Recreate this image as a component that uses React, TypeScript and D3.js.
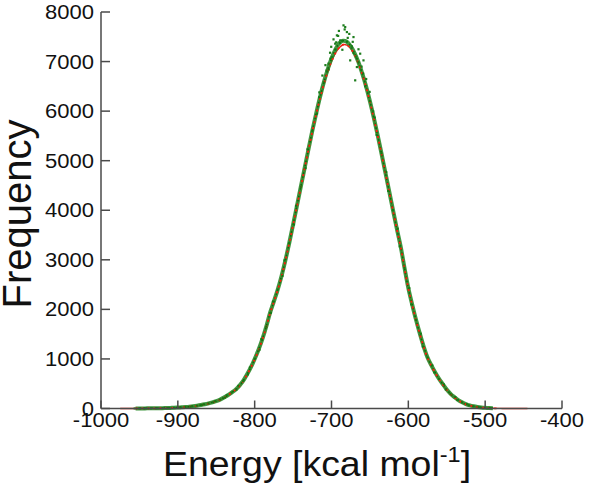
import React from "react";
import * as d3 from "d3";

const energies = [
  -975, -970, -965, -960, -955, -950, -945, -940, -935, -930, -925, -920, -915, -910, -905, -900,
  -895, -890, -885, -880, -875, -870, -865, -860, -855, -850, -845, -840, -835, -830, -825, -820,
  -815, -810, -805, -800, -795, -790, -785, -780, -775, -770, -765, -760, -755, -750, -745, -740,
  -735, -730, -725, -720, -715, -710, -705, -700, -695, -690, -685, -680, -675, -670, -665, -660,
  -655, -650, -645, -640, -635, -630, -625, -620, -615, -610, -605, -600, -595, -590, -585, -580,
  -575, -570, -565, -560, -555, -550, -545, -540, -535, -530, -525, -520, -515, -510, -505, -500,
  -495, -490, -485, -480, -475, -470, -465, -460, -455, -450, -445,
];

const redFreq = [
  0, 0, 1, 1, 1, 1, 2, 2, 3, 4, 5, 6, 8, 11, 14, 18,
  23, 29, 36, 45, 55, 68, 82, 100, 122, 145, 175, 215, 262, 318, 375, 450,
  548, 680, 825, 990, 1170, 1390, 1640, 1920, 2150, 2390, 2660, 2981, 3331, 3697, 4075, 4458,
  4841, 5219, 5583, 5931, 6252, 6542, 6794, 7004, 7168, 7280, 7340, 7333, 7262, 7139, 6966, 6747,
  6486, 6188, 5861, 5511, 5143, 4764, 4380, 3997, 3621, 3260, 2830, 2420, 2090, 1780, 1500, 1240,
  1020, 860, 720, 590, 480, 375, 290, 225, 165, 120, 85, 60, 42, 30, 20, 13,
  8, 5, 3, 2, 1, 1, 1, 0, 0, 0, 0,
];

const greenFreq = [
  null, null, null, null, 1, 2, 2, 3, 4, 5, 6, 7, 9, 12, 15, 19,
  24, 30, 37, 46, 57, 70, 85, 103, 125, 150, 180, 220, 268, 322, 380, 458,
  555, 688, 830, 1000, 1185, 1400, 1650, 1930, 2160, 2400, 2675, 2990, 3340, 3710, 4090, 4470,
  4850, 5230, 5600, 5950, 6280, 6580, 6840, 7060, 7240, 7370, 7420, 7400, 7310, 7170, 6990, 6760,
  6500, 6200, 5870, 5520, 5150, 4770, 4390, 4005, 3630, 3270, 2840, 2430, 2100, 1790, 1510, 1250,
  1030, 870, 728, 598, 488, 382, 296, 230, 170, 124, 88, 62, 44, 31, 21, 14,
  9, 6, null, null, null, null, null, null, null, null, null,
];

const greenScatterE = [
  -684.5, -682.3, -693.1, -695.3, -671.5, -662.8, -699.6, -704.0, -667.1, -673.6, -688.8, -680.1,
  -658.5, -675.8, -669.3, -690.5, -677.0, -686.0, -697.5, -665.0, -702.0, -708.0, -712.0, -655.0,
  -650.5, -679.0, -691.5, -683.0, -672.5, -661.0, -700.5, -706.5, -646.0, -716.0, -668.0, -694.0,
];
const greenScatterF = [
  7732, 7698, 7530, 7363, 7496, 7161, 7093, 6960, 6891, 7294, 7429, 7597,
  7026, 7026, 6623, 7620, 7560, 7240, 7450, 7250, 7180, 6930, 6720, 6650,
  6390, 7480, 7520, 7650, 7400, 6900, 7300, 6820, 6000, 6380, 7100, 7390,
];

const xTicks = [-1000, -900, -800, -700, -600, -500, -400];
const yTicks = [0, 1000, 2000, 3000, 4000, 5000, 6000, 7000, 8000];

const FONT = "'Liberation Sans', Arial, Helvetica, sans-serif";
const SX = 1.13;

export default function App() {
  const x = d3.scaleLinear().domain([-1000, -400]).range([101, 562]);
  const y = d3.scaleLinear().domain([0, 8000]).range([408.5, 12]);

  const redPts = energies.map((e, i) => [e, redFreq[i]] as [number, number]);
  const greenPts = energies
    .map((e, i) => [e, greenFreq[i]] as [number, number | null])
    .filter((p) => p[1] !== null) as [number, number][];

  const line = d3
    .line<[number, number]>()
    .x((d) => x(d[0]))
    .y((d) => y(d[1]))
    .curve(d3.curveCatmullRom);

  const axisColor = "#4a4a4a";

  return (
    <svg
      width={600}
      height={486}
      style={{ position: "absolute", left: 0, top: 0, background: "#fff" }}
    >
      {/* data */}
      <path d={line(redPts) || ""} fill="none" stroke="#e32418" strokeWidth={1.4} />
      <path
        d={line(greenPts) || ""}
        fill="none"
        stroke="#2b8c2b"
        strokeWidth={4}
        strokeOpacity={0.9}
      />
      <path
        d={line(greenPts) || ""}
        fill="none"
        stroke="#0f6a0f"
        strokeWidth={1.6}
        strokeDasharray="1.5 2.5"
      />
      <path
        d={line(redPts.filter((p) => p[0] > -960 && p[0] < -480)) || ""}
        fill="none"
        stroke="#ff1a0d"
        strokeWidth={1.8}
        strokeDasharray="2 4"
      />
      {greenPts.map((p, i) => (
        <rect
          key={"g" + i}
          x={x(p[0]) - 1 + ((i % 3) - 1)}
          y={y(p[1]) - 1}
          width={2}
          height={2}
          fill="#157a15"
        />
      ))}
      {greenScatterE.map((e, i) => (
        <rect
          key={"s" + i}
          x={x(e) - 1}
          y={y(greenScatterF[i]) - 1}
          width={2.2}
          height={2.2}
          fill="#1d7d1d"
        />
      ))}

      {/* axes */}
      <line x1={x(-1000)} x2={x(-400)} y1={y(0)} y2={y(0)} stroke={axisColor} strokeWidth={1.5} />
      <line x1={x(-1000)} x2={x(-1000)} y1={y(0)} y2={y(8000)} stroke={axisColor} strokeWidth={1.5} />
      {xTicks.map((t) => (
        <g key={"xt" + t}>
          <line x1={x(t)} x2={x(t)} y1={y(0)} y2={y(0) - 8} stroke={axisColor} strokeWidth={1.5} />
          <text
            transform={`translate(${x(t)},427) scale(${SX},1)`}
            textAnchor="middle"
            fontFamily={FONT}
            fontSize={19.5}
            fill="#111"
          >
            {t}
          </text>
        </g>
      ))}
      {yTicks.map((t) => (
        <g key={"yt" + t}>
          <line
            x1={x(-1000)}
            x2={x(-1000) + 9}
            y1={y(t)}
            y2={y(t)}
            stroke={axisColor}
            strokeWidth={1.5}
          />
          <text
            transform={`translate(94,${y(t) + 7}) scale(${SX},1)`}
            textAnchor="end"
            fontFamily={FONT}
            fontSize={19.5}
            fill="#111"
          >
            {t}
          </text>
        </g>
      ))}

      {/* axis titles */}
      <text
        transform="translate(31,214) rotate(-90)"
        textAnchor="middle"
        fontFamily={FONT}
        fontSize={40}
        fill="#111"
      >
        Frequency
      </text>
      <text
        transform={`translate(163,476) scale(1.07,1)`}
        textAnchor="start"
        fontFamily={FONT}
        fontSize={35}
        fill="#111"
      >
        Energy [kcal mol
        <tspan fontSize={22} dy={-14}>
          -1
        </tspan>
        <tspan fontSize={35} dy={14}>
          ]
        </tspan>
      </text>
    </svg>
  );
}
